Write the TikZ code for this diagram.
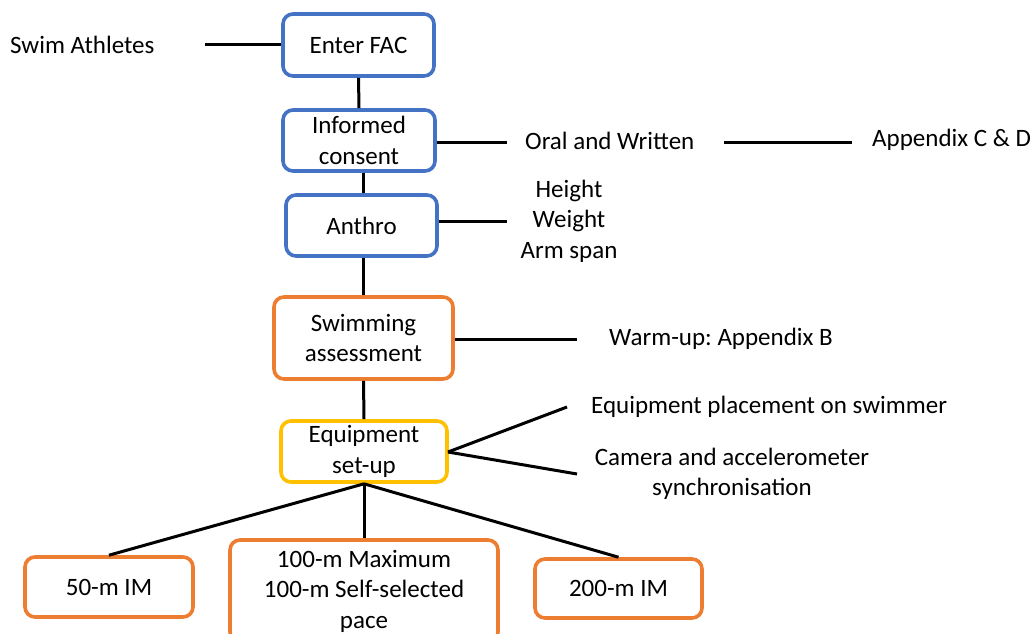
\documentclass[tikz,border=0pt]{standalone}
\usepackage{fontspec}
\setmainfont{Carlito}
\frenchspacing
\definecolor{cblue}{HTML}{4472C4}
\definecolor{corange}{HTML}{ED7D31}
\definecolor{cyellow}{HTML}{FFC000}
\begin{document}
\begin{tikzpicture}[x=1pt,y=-1pt,
  every node/.style={font=\fontsize{25}{30.5}\selectfont, text=black, inner sep=0pt, align=center},
  box/.style={draw, line width=3.6pt, rounded corners=10pt, fill=white},
  bluebox/.style={box, draw=cblue},
  orangebox/.style={box, draw=corange},
  yellowbox/.style={box, draw=cyellow},
  conn/.style={line width=3pt, black}]
\clip (0,0) rectangle (1033,634);
\fill[white] (0,0) rectangle (1033,634);
% main boxes
\node[bluebox, minimum width=151pt, minimum height=62pt] (fac) at (358.5,45) {Enter FAC};
\node[bluebox, minimum width=152pt, minimum height=61pt] (ic) at (359,140.5) {Informed\\consent};
\node[bluebox, minimum width=151pt, minimum height=61pt] (anthro) at (361.5,225.5) {Anthro};
\node[orangebox, minimum width=179pt, minimum height=82pt] (swim) at (363.5,338) {Swimming\\assessment};
\node[yellowbox, minimum width=166pt, minimum height=61pt] (equip) at (364,451.5) {Equipment\\set-up};
\node[orangebox, minimum width=168pt, minimum height=60pt] (m50) at (109,587) {50-m IM};
\node[orangebox, minimum width=268pt, minimum height=102pt] (m100) at (364,591) {100-m Maximum\\100-m Self-selected\\pace};
\node[orangebox, minimum width=167pt, minimum height=59pt] (m200) at (618.5,588.5) {200-m IM};
% side texts
\node[anchor=west] (sa) at (10,45) {Swim Athletes};
\node[anchor=west] (oral) at (525,141) {Oral and Written};
\node[anchor=west] (appcd) at (872,140) {Appendix C \& D};
\node (hw) at (569,221) {Height\\Weight\\Arm span};
\node[anchor=west] (warm) at (609,339) {Warm-up: Appendix B};
\node[anchor=west] (place) at (591,407) {Equipment placement on swimmer};
\node (cam) at (732,474) {Camera and accelerometer\\synchronisation};
% free ends
\coordinate (saend) at (205,45);
\coordinate (icend) at (507,142);
\coordinate (oralend) at (724,142);
\coordinate (append) at (852,142);
\coordinate (anend) at (507,221);
\coordinate (swend) at (577,339);
\coordinate (eqsrc) at (448,452);
\coordinate (plend) at (567,407);
\coordinate (camend) at (577,474);
% connectors
\draw[conn] (saend) -- (fac.west);
\draw[conn] (fac.south) -- (ic.north);
\draw[conn] (ic.south -| swim.center) -- (anthro.north -| swim.center);
\draw[conn] (anthro.south -| swim.center) -- (swim.north);
\draw[conn] (swim.south) -- (equip.north);
\draw[conn] (ic.east |- icend) -- (icend);
\draw[conn] (oralend) -- (append);
\draw[conn] (anthro.east |- anend) -- (anend);
\draw[conn] (swim.east |- swend) -- (swend);
\draw[conn] (eqsrc) -- (plend);
\draw[conn] (eqsrc) -- (camend);
\draw[conn] (equip.south) -- (m50.north);
\draw[conn] (equip.south) -- (m100.north);
\draw[conn] (equip.south) -- (m200.north);
\end{tikzpicture}
\end{document}
